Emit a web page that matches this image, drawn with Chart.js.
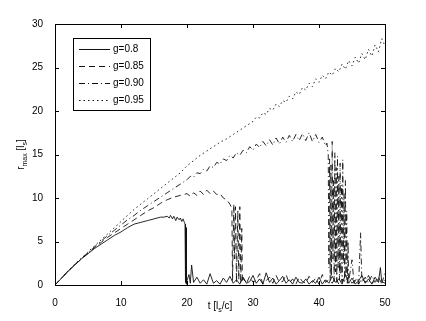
<!DOCTYPE html>
<html>
<head>
<meta charset="utf-8">
<script src="https://cdn.jsdelivr.net/npm/chart.js@4.4.1/dist/chart.umd.min.js"></script>
<style>
html, body { margin: 0; padding: 0; background: #fff; }
canvas { display: block; }
</style>
</head>
<body>
<canvas id="chart" width="426" height="321"></canvas>
<script>
// [t, r_max] samples
const g080 = [
  [0,0],[1,0.8],[2,1.6],[3,2.3],[4,3.0],[5,3.6],[6,4.2],[7,4.7],[8,5.2],[9,5.7],
  [10,6.1],[11,6.6],[12,7.0],[13,7.2],[14,7.4],[15,7.6],[16,7.8],[16.5,7.8],[17,7.9],[17.3,7.7],
  [17.5,8.0],[17.8,7.6],[18,7.9],[18.3,7.4],[18.5,7.8],[18.8,7.5],[19,7.7],[19.2,7.3],[19.4,7.6],[19.6,7.2],
  [19.7,7.0],[19.75,0.3],[19.8,6.9],[19.85,0.2],[19.9,6.6],[19.95,0.1],[20,0.5],[20.3,1.2],[20.5,0.2],[20.7,2.3],
  [21,0.3],[21.5,0.9],[22,0.2],[22.5,0.6],[23,0.1],[23.5,1.3],[24,0.2],[24.5,0.5],[25,0.1],[25.5,0.8],
  [26,0.3],[26.5,1.0],[27,0.2],[27.5,0.6],[28,0.1],[28.5,0.9],[29,0.2],[29.5,0.4],[30,1.1],[30.5,0.2],
  [31,0.7],[31.5,0.1],[32,1.4],[32.5,0.3],[33,0.8],[33.5,0.1],[34,0.5],[34.5,1.0],[35,0.2],[35.5,0.6],
  [36,0.1],[36.5,0.9],[37,0.3],[37.5,0.2],[38,0.7],[38.5,0.1],[39,0.5],[39.5,0.2],[40,0.9],[40.5,0.1],
  [41,0.6],[41.5,0.2],[42,1.0],[42.5,0.3],[43,0.7],[43.5,0.1],[44,1.2],[44.5,0.2],[45,0.8],[45.5,0.1],
  [46,0.5],[46.5,1.1],[47,0.2],[47.5,0.7],[48,0.1],[48.5,0.9],[49,0.3],[49.3,2.0],[49.5,0.4],[50,0.2]
];

const g085 = [
  [0,0],[1,0.8],[2,1.6],[3,2.3],[4,3.0],[5,3.65],[6,4.3],[7,4.9],[8,5.5],[9,6.0],
  [10,6.5],[11,7.0],[12,7.5],[13,8.0],[14,8.5],[15,8.9],[16,9.4],[17,9.8],[18,10.1],[19,10.3],
  [20,10.5],[20.5,10.2],[21,10.6],[21.5,10.3],[22,10.8],[22.5,10.4],[23,10.9],[23.5,10.5],[24,10.8],[24.5,10.4],
  [25,10.5],[25.5,10.0],[26,9.8],[26.5,9.3],[26.8,8.8],[26.9,0.5],[27.1,9.3],[27.2,3.0],[27.35,9.0],[27.5,0.3],
  [27.7,8.5],[27.85,0.6],[28,9.0],[28.15,0.2],[28.3,6.5],[28.4,0.3],[28.5,0.8],[29,0.2],[29.5,1.0],[30,0.3],
  [30.5,0.6],[31,1.3],[31.5,0.1],[32,0.5],[32.5,0.9],[33,0.2],[33.5,1.1],[34,0.3],[34.5,0.4],[35,1.2],
  [35.5,0.2],[36,0.7],[36.5,0.1],[37,0.9],[37.5,0.4],[38,0.2],[38.5,1.0],[39,0.3],[39.5,0.8],[40,0.1],
  [40.5,1.2],[41,0.3],[41.5,0.6],[42,0.2],[42.5,0.9],[43,0.1],[43.5,0.7],[44,0.3],[44.5,1.0],[45,0.2],
  [45.5,0.6],[46,0.1],[46.5,0.8],[47,0.3],[47.5,1.1],[48,0.2],[48.5,0.5],[49,0.9],[49.5,0.2],[50,0.6]
];

const g090 = [
  [0,0],[1,0.8],[2,1.6],[3,2.35],[4,3.05],[5,3.7],[6,4.4],[7,5.05],[8,5.7],[9,6.3],
  [10,6.9],[11,7.5],[12,8.0],[13,8.6],[14,9.1],[15,9.6],[16,10.1],[17,10.6],[18,11.1],[19,11.6],
  [20,12.1],[20.5,12.5],[21,12.4],[21.5,12.9],[22,12.8],[22.5,13.3],[23,13.1],[23.5,13.7],[24,13.5],[24.5,14.1],
  [25,13.9],[25.5,14.5],[26,14.3],[26.5,14.9],[27,14.6],[27.5,15.2],[28,14.9],[28.5,15.5],[29,15.2],[29.5,15.9],
  [30,15.5],[30.5,16.2],[31,15.8],[31.5,16.5],[32,16.0],[32.5,16.7],[33,16.1],[33.5,16.9],[34,16.2],[34.5,17.0],
  [35,16.4],[35.5,17.2],[36,16.5],[36.5,17.3],[37,16.6],[37.5,17.4],[38,16.6],[38.5,17.5],[39,16.5],[39.5,17.3],
  [40,16.4],[40.5,17.0],[41,16.0],[41.2,16.3],[41.4,15.0],[41.5,2.0],[41.6,14.5],[41.7,0.5],[41.8,13.8],[41.9,1.0],
  [42,16.5],[42.1,3.0],[42.2,12.0],[42.3,0.4],[42.4,15.2],[42.5,1.5],[42.6,13.5],[42.7,0.3],[42.8,14.8],[42.9,2.0],
  [43,12.5],[43.1,0.6],[43.2,14.0],[43.3,1.2],[43.4,11.5],[43.5,0.3],[43.6,14.4],[43.7,2.5],[43.8,10.5],[43.9,0.5],
  [44,12.0],[44.1,1.0],[44.2,8.5],[44.3,0.2],[44.4,5.0],[44.5,0.4],[45,2.9],[45.3,0.2],[45.7,0.8],[46,0.1],
  [46.3,6.0],[46.5,0.3],[47,0.9],[47.5,0.2],[48,1.1],[48.5,0.3],[49,0.7],[49.5,0.1],[50,1.5]
];

const g095 = [
  [0,0],[1,0.8],[2,1.65],[3,2.4],[4,3.1],[5,3.8],[6,4.5],[7,5.2],[8,5.9],[9,6.6],
  [10,7.3],[11,8.0],[12,8.7],[13,9.3],[14,9.9],[15,10.5],[16,11.1],[17,11.7],[18,12.3],[19,12.9],
  [20,13.7],[21,14.3],[22,14.9],[23,15.4],[24,15.9],[25,16.4],[26,16.8],[27,17.3],[28,17.8],[29,18.3],
  [30,18.8],[30.5,19.3],[31,19.2],[31.5,19.8],[32,19.6],[32.5,20.3],[33,20.1],[33.5,20.8],[34,20.5],[34.5,21.2],
  [35,21.0],[35.5,21.7],[36,21.4],[36.5,22.2],[37,21.9],[37.5,22.7],[38,22.4],[38.5,23.2],[39,22.8],[39.5,23.7],
  [40,23.3],[40.5,24.1],[41,23.7],[41.5,24.5],[42,24.1],[42.5,24.9],[43,24.5],[43.5,25.4],[44,24.8],[44.5,25.8],
  [45,25.2],[45.5,26.2],[46,25.5],[46.5,26.6],[47,25.9],[47.5,27.1],[48,26.3],[48.5,27.6],[49,26.8],[49.5,28.3],
  [50,27.5]
];

const seriesLabels = ['g=0.8', 'g=0.85', 'g=0.90', 'g=0.95'];
const seriesDash = [[], [6, 4], [6, 3, 1, 3], [1.5, 3]];
const xTicks = [0, 10, 20, 30, 40, 50];
const yTicks = [0, 5, 10, 15, 20, 25, 30];

const FONT = "'Liberation Sans', Arial, Helvetica, sans-serif";

function toPoints(arr) {
  return arr.map(p => ({ x: p[0], y: p[1] }));
}

const datasets = [g080, g085, g090, g095].map((s, i) => ({
  label: seriesLabels[i],
  data: toPoints(s),
  showLine: true,
  borderColor: '#111',
  borderWidth: 0.9,
  borderDash: seriesDash[i],
  pointRadius: 0,
  tension: 0,
  fill: false
}));

// box, inward ticks, axis titles with subscripts, framed legend
const matlabLook = {
  id: 'matlabLook',
  afterDraw(chart) {
    const { ctx, chartArea: a, scales: { x, y } } = chart;
    ctx.save();
    ctx.strokeStyle = '#000';
    ctx.lineWidth = 1;
    ctx.setLineDash([]);
    ctx.strokeRect(a.left + 0.5, a.top + 0.5, a.right - a.left, a.bottom - a.top);

    ctx.beginPath();
    xTicks.forEach(v => {
      const px = Math.round(x.getPixelForValue(v)) + 0.5;
      ctx.moveTo(px, a.bottom); ctx.lineTo(px, a.bottom - 4);
      ctx.moveTo(px, a.top); ctx.lineTo(px, a.top + 4);
    });
    yTicks.forEach(v => {
      const py = Math.round(y.getPixelForValue(v)) + 0.5;
      ctx.moveTo(a.left, py); ctx.lineTo(a.left + 4, py);
      ctx.moveTo(a.right, py); ctx.lineTo(a.right - 4, py);
    });
    ctx.stroke();

    // x title: t [l_s/c]
    ctx.fillStyle = '#000';
    ctx.textBaseline = 'alphabetic';
    ctx.textAlign = 'left';
    const big = '10px ' + FONT, small = '7px ' + FONT;
    const drawPieces = (pieces, cx, cy) => {
      let w = 0;
      pieces.forEach(p => { ctx.font = p[1] ? small : big; w += ctx.measureText(p[0]).width; });
      let px = cx - w / 2;
      pieces.forEach(p => {
        ctx.font = p[1] ? small : big;
        ctx.fillText(p[0], px, cy + (p[1] ? 3 : 0));
        px += ctx.measureText(p[0]).width;
      });
    };
    drawPieces([['t [l', false], ['s', true], ['/c]', false]], (a.left + a.right) / 2, 309);

    ctx.save();
    ctx.translate(24, (a.top + a.bottom) / 2);
    ctx.rotate(-Math.PI / 2);
    drawPieces([['r', false], ['max', true], [' [l', false], ['s', true], [']', false]], 0, 0);
    ctx.restore();

    // legend
    const lx = 73.5, ly = 38.5, lw = 77, lh = 72;
    ctx.fillStyle = '#fff';
    ctx.fillRect(lx, ly, lw, lh);
    ctx.strokeRect(lx, ly, lw, lh);
    ctx.font = big;
    ctx.textBaseline = 'middle';
    chart.data.datasets.forEach((ds, i) => {
      const ry = Math.round(ly + 10 + i * 17) + 0.5;
      ctx.strokeStyle = '#111';
      ctx.setLineDash(ds.borderDash);
      ctx.beginPath();
      ctx.moveTo(79, ry); ctx.lineTo(110, ry);
      ctx.stroke();
      ctx.setLineDash([]);
      ctx.fillStyle = '#000';
      ctx.fillText(ds.label, 113, ry);
    });
    ctx.restore();
  }
};

const chart = new Chart(document.getElementById('chart'), {
  type: 'scatter',
  data: { datasets: datasets },
  options: {
    responsive: false,
    devicePixelRatio: 1,
    animation: false,
    layout: { padding: { top: 24, right: 41, left: 0, bottom: 0 } },
    plugins: {
      legend: { display: false },
      tooltip: { enabled: false }
    },
    scales: {
      x: {
        type: 'linear',
        min: 0,
        max: 50,
        afterFit(scale) { scale.height = 36; },
        afterBuildTicks(scale) { scale.ticks = xTicks.map(v => ({ value: v })); },
        grid: { display: false },
        border: { display: false },
        ticks: { color: '#000', font: { family: FONT, size: 10 }, padding: 4, maxRotation: 0 }
      },
      y: {
        type: 'linear',
        min: 0,
        max: 30,
        afterFit(scale) { scale.width = 55; },
        afterBuildTicks(scale) { scale.ticks = yTicks.map(v => ({ value: v })); },
        grid: { display: false },
        border: { display: false },
        ticks: { color: '#000', font: { family: FONT, size: 10 }, padding: 4 }
      }
    }
  },
  plugins: [matlabLook]
});
</script>
</body>
</html>
